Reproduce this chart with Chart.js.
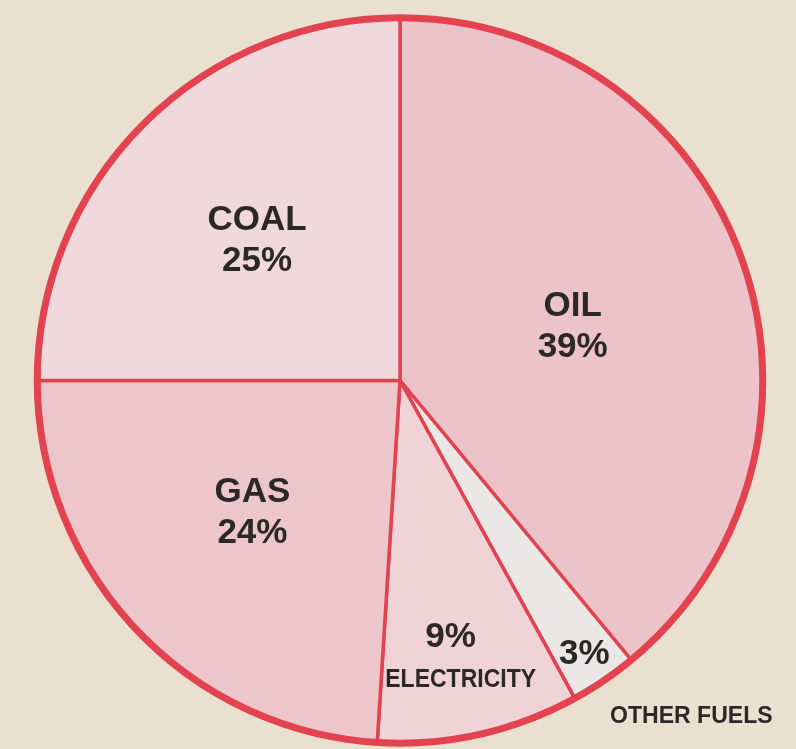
<!DOCTYPE html>
<html>
<head>
<meta charset="utf-8">
<script src="https://cdn.jsdelivr.net/npm/chart.js@4.4.1/dist/chart.umd.min.js"></script>
<style>
  html, body { margin: 0; padding: 0; background: #eae0d0; }
  #wrap { width: 796px; height: 749px; position: relative; }
</style>
</head>
<body>
<div id="wrap"><canvas id="pie"></canvas></div>
<script>
// Energy consumption by fuel, clockwise from twelve o'clock
const fuels = ['OIL', 'OTHER FUELS', 'ELECTRICITY', 'GAS', 'COAL'];
const shares = [39, 3, 9, 24, 25];
const sliceColors = ['#ebc3c8', '#ebe7e6', '#efd3d7', '#ecc6cb', '#f0d9dc'];

const RED = '#e2434f';
const INK = '#2d2828';
const FONT = '"Liberation Sans", Arial, Helvetica, sans-serif';

// Thick outer rim plus the slice captions
const rimAndLabels = {
  id: 'rimAndLabels',
  afterDatasetsDraw(chart) {
    const ctx = chart.ctx;
    const arcs = chart.getDatasetMeta(0).data;
    const first = arcs[0];
    const cx = first.x, cy = first.y, R = first.outerRadius;

    ctx.save();
    ctx.beginPath();
    ctx.arc(cx, cy, R, 0, Math.PI * 2);
    ctx.lineWidth = 7;
    ctx.strokeStyle = RED;
    ctx.stroke();

    // point along a slice's bisector at a fraction of the radius, nudged by (dx, dy)
    const at = (i, frac, dx = 0, dy = 0) => {
      const a = arcs[i];
      const mid = (a.startAngle + a.endAngle) / 2;
      return { x: cx + Math.cos(mid) * R * frac + dx, y: cy + Math.sin(mid) * R * frac + dy };
    };
    ctx.fillStyle = INK;
    ctx.textAlign = 'center';
    ctx.textBaseline = 'middle';
    const big = 'bold 35px ' + FONT;
    // capitals sit slightly above the em-box middle, so drop them a touch
    const text = (str, x, y, font, squeeze = 1) => {
      ctx.save();
      ctx.font = font;
      ctx.translate(x, y + 3);
      ctx.scale(squeeze, 1);
      ctx.fillText(str, 0, 0);
      ctx.restore();
    };
    const two = (p, top, bottom) => {
      text(top, p.x, p.y - 20.5, big);
      text(bottom, p.x, p.y + 20.5, big);
    };

    two(at(0, 0.50, 2, 5), fuels[0], shares[0] + '%');
    two(at(4, 0.557), 'COAL', shares[4] + '%');
    two(at(3, 0.543, -4, -5), 'GAS', shares[3] + '%');

    // Electricity: value with caption underneath
    const e = at(2, 0.716, -6, 0);
    text(shares[2] + '%', e.x, e.y, big);
    text(fuels[2], e.x + 10, e.y + 43, 'bold 25px ' + FONT, 0.92);

    // Other fuels: value in the slice, caption outside the rim
    const o = at(1, 0.904);
    text(shares[1] + '%', o.x, o.y, big);
    text(fuels[1], o.x + 107, o.y + 62, 'bold 24px ' + FONT, 0.96);
    ctx.restore();
  }
};

new Chart(document.getElementById('pie'), {
  type: 'pie',
  data: {
    labels: fuels,
    datasets: [{
      data: shares,
      backgroundColor: sliceColors,
      borderColor: RED,
      borderWidth: 3.5,
      borderJoinStyle: 'miter',
      hoverOffset: 0
    }]
  },
  options: {
    responsive: true,
    maintainAspectRatio: false,
    animation: false,
    events: [],
    layout: { padding: { left: 35, right: 31, top: 16, bottom: 4 } },
    plugins: {
      legend: { display: false },
      tooltip: { enabled: false }
    }
  },
  plugins: [rimAndLabels]
});
</script>
</body>
</html>
